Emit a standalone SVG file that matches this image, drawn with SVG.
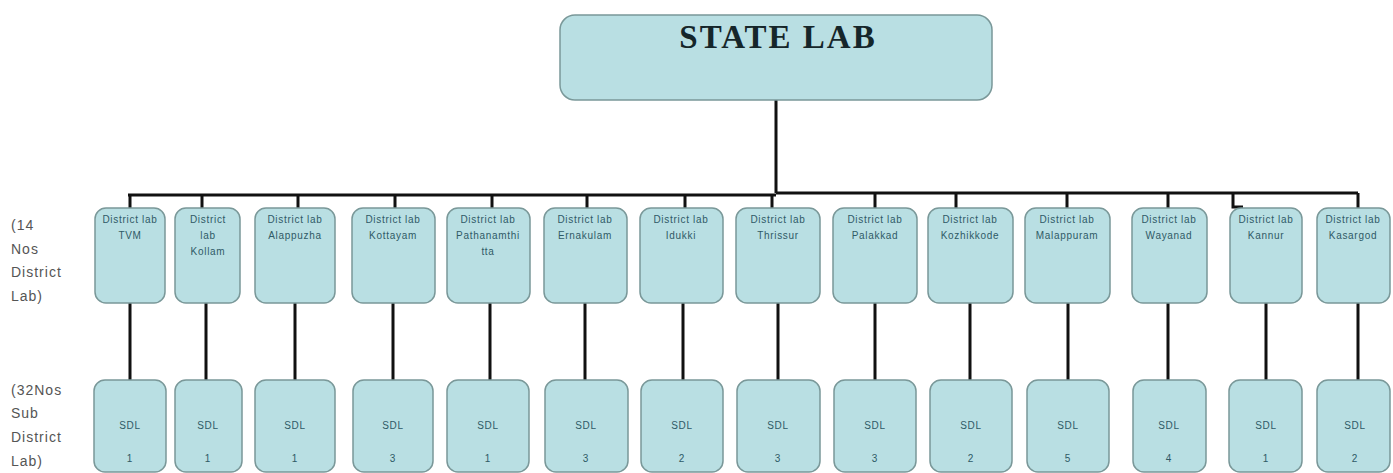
<svg xmlns="http://www.w3.org/2000/svg" width="1393" height="473" viewBox="0 0 1393 473">
<style>
.box{fill:#b9dfe3;stroke:#7a9899;stroke-width:1.5}
.ln{fill:none;stroke:#111;stroke-width:3}
.dt{font-family:"Liberation Sans",Arial,sans-serif;font-size:10px;letter-spacing:0.7px;fill:#2f5a66;text-anchor:middle}
.st{font-family:"Liberation Serif","Times New Roman",serif;font-size:33px;font-weight:bold;letter-spacing:2px;fill:#15262a;text-anchor:middle}
.lb{font-family:"Liberation Sans",Arial,sans-serif;font-size:14px;letter-spacing:1px;fill:#555}
</style>
<rect width="1393" height="473" fill="#fff"/>
<g id="connectors">
<path class="ln" d="M776 100V193M128 195H776M776 193H1358"/>
<path class="ln" d="M130 195V208M202 195V208M298 195V208M395 195V208M492 195V208M587 195V208M685 195V208M772 195V208M875 194V208M956 194V208M1067 194V208M1168 194V208M1233 194V207H1243M1358 193V208"/>
<path class="ln" d="M130 303V380M206 303V380M295 303V380M393 303V380M490 303V380M585 303V380M683 303V380M778 303V380M875 303V380M970 303V380M1068 303V380M1168 303V380M1266 303V380M1358 303V380"/>
</g>
<g id="labels">
<text class="lb" x="11" y="230">(14</text>
<text class="lb" x="11" y="254">Nos</text>
<text class="lb" x="11" y="277">District</text>
<text class="lb" x="11" y="301">Lab)</text>
<text class="lb" x="11" y="395">(32Nos</text>
<text class="lb" x="11" y="418">Sub</text>
<text class="lb" x="11" y="442">District</text>
<text class="lb" x="11" y="466">Lab)</text>
</g>
<g id="state-lab"><rect class="box" x="560" y="15" width="432" height="85" rx="15"/><text class="st" x="778" y="48">STATE LAB</text></g>
<g id="dl-tvm"><rect class="box" x="95" y="208" width="70" height="95" rx="11"/><text class="dt" x="130" y="223">District lab</text><text class="dt" x="130" y="239">TVM</text></g>
<g id="dl-kollam"><rect class="box" x="175" y="208" width="65" height="95" rx="11"/><text class="dt" x="208" y="223">District</text><text class="dt" x="208" y="239">lab</text><text class="dt" x="208" y="255">Kollam</text></g>
<g id="dl-alappuzha"><rect class="box" x="255" y="208" width="80" height="95" rx="11"/><text class="dt" x="295" y="223">District lab</text><text class="dt" x="295" y="239">Alappuzha</text></g>
<g id="dl-kottayam"><rect class="box" x="352" y="208" width="83" height="95" rx="11"/><text class="dt" x="393" y="223">District lab</text><text class="dt" x="393" y="239">Kottayam</text></g>
<g id="dl-pathanamthitta"><rect class="box" x="447" y="208" width="83" height="95" rx="11"/><text class="dt" x="488" y="223">District lab</text><text class="dt" x="488" y="239">Pathanamthi</text><text class="dt" x="488" y="255">tta</text></g>
<g id="dl-ernakulam"><rect class="box" x="544" y="208" width="83" height="95" rx="11"/><text class="dt" x="585" y="223">District lab</text><text class="dt" x="585" y="239">Ernakulam</text></g>
<g id="dl-idukki"><rect class="box" x="640" y="208" width="83" height="95" rx="11"/><text class="dt" x="681" y="223">District lab</text><text class="dt" x="681" y="239">Idukki</text></g>
<g id="dl-thrissur"><rect class="box" x="736" y="208" width="84" height="95" rx="11"/><text class="dt" x="778" y="223">District lab</text><text class="dt" x="778" y="239">Thrissur</text></g>
<g id="dl-palakkad"><rect class="box" x="833" y="208" width="84" height="95" rx="11"/><text class="dt" x="875" y="223">District lab</text><text class="dt" x="875" y="239">Palakkad</text></g>
<g id="dl-kozhikkode"><rect class="box" x="928" y="208" width="85" height="95" rx="11"/><text class="dt" x="970" y="223">District lab</text><text class="dt" x="970" y="239">Kozhikkode</text></g>
<g id="dl-malappuram"><rect class="box" x="1025" y="208" width="85" height="95" rx="11"/><text class="dt" x="1067" y="223">District lab</text><text class="dt" x="1067" y="239">Malappuram</text></g>
<g id="dl-wayanad"><rect class="box" x="1132" y="208" width="75" height="95" rx="11"/><text class="dt" x="1169" y="223">District lab</text><text class="dt" x="1169" y="239">Wayanad</text></g>
<g id="dl-kannur"><rect class="box" x="1230" y="208" width="72" height="95" rx="11"/><text class="dt" x="1266" y="223">District lab</text><text class="dt" x="1266" y="239">Kannur</text></g>
<g id="dl-kasargod"><rect class="box" x="1317" y="208" width="73" height="95" rx="11"/><text class="dt" x="1353" y="223">District lab</text><text class="dt" x="1353" y="239">Kasargod</text></g>
<g id="sdl-tvm"><rect class="box" x="94" y="380" width="72" height="92" rx="11"/><text class="dt" x="130" y="429">SDL</text><text class="dt" x="130" y="462">1</text></g>
<g id="sdl-kollam"><rect class="box" x="175" y="380" width="67" height="92" rx="11"/><text class="dt" x="208" y="429">SDL</text><text class="dt" x="208" y="462">1</text></g>
<g id="sdl-alappuzha"><rect class="box" x="255" y="380" width="80" height="92" rx="11"/><text class="dt" x="295" y="429">SDL</text><text class="dt" x="295" y="462">1</text></g>
<g id="sdl-kottayam"><rect class="box" x="353" y="380" width="80" height="92" rx="11"/><text class="dt" x="393" y="429">SDL</text><text class="dt" x="393" y="462">3</text></g>
<g id="sdl-pathanamthitta"><rect class="box" x="447" y="380" width="82" height="92" rx="11"/><text class="dt" x="488" y="429">SDL</text><text class="dt" x="488" y="462">1</text></g>
<g id="sdl-ernakulam"><rect class="box" x="545" y="380" width="83" height="92" rx="11"/><text class="dt" x="586" y="429">SDL</text><text class="dt" x="586" y="462">3</text></g>
<g id="sdl-idukki"><rect class="box" x="641" y="380" width="82" height="92" rx="11"/><text class="dt" x="682" y="429">SDL</text><text class="dt" x="682" y="462">2</text></g>
<g id="sdl-thrissur"><rect class="box" x="737" y="380" width="83" height="92" rx="11"/><text class="dt" x="778" y="429">SDL</text><text class="dt" x="778" y="462">3</text></g>
<g id="sdl-palakkad"><rect class="box" x="834" y="380" width="82" height="92" rx="11"/><text class="dt" x="875" y="429">SDL</text><text class="dt" x="875" y="462">3</text></g>
<g id="sdl-kozhikkode"><rect class="box" x="930" y="380" width="82" height="92" rx="11"/><text class="dt" x="971" y="429">SDL</text><text class="dt" x="971" y="462">2</text></g>
<g id="sdl-malappuram"><rect class="box" x="1027" y="380" width="82" height="92" rx="11"/><text class="dt" x="1068" y="429">SDL</text><text class="dt" x="1068" y="462">5</text></g>
<g id="sdl-wayanad"><rect class="box" x="1133" y="380" width="73" height="92" rx="11"/><text class="dt" x="1169" y="429">SDL</text><text class="dt" x="1169" y="462">4</text></g>
<g id="sdl-kannur"><rect class="box" x="1229" y="380" width="73" height="92" rx="11"/><text class="dt" x="1266" y="429">SDL</text><text class="dt" x="1266" y="462">1</text></g>
<g id="sdl-kasargod"><rect class="box" x="1317" y="380" width="73" height="92" rx="11"/><text class="dt" x="1355" y="429">SDL</text><text class="dt" x="1355" y="462">2</text></g>
</svg>
